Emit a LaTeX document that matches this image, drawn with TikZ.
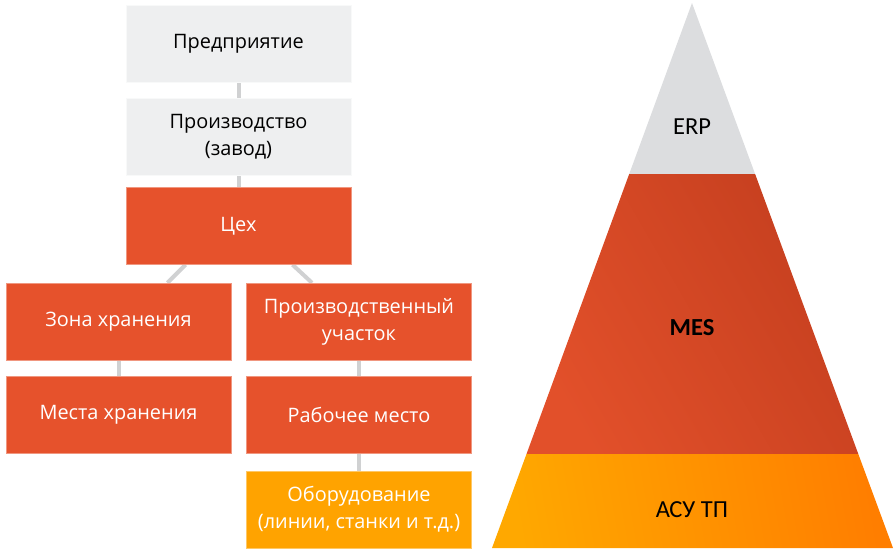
\documentclass[tikz,border=0pt]{standalone}
\usepackage{fontspec}
\setmainfont{Carlito}
\newfontfamily\boxfont{Open Sans}
\usetikzlibrary{positioning,backgrounds}
\definecolor{paleBox}{RGB}{238,239,240}
\definecolor{redBox}{RGB}{230,82,44}
\definecolor{amberBox}{RGB}{255,163,0}
\definecolor{linkGray}{RGB}{208,209,210}
\definecolor{erpGray}{RGB}{220,221,223}
\definecolor{mesLow}{RGB}{226,80,42}
\definecolor{mesHigh}{RGB}{197,63,31}
\definecolor{asuLow}{RGB}{255,168,0}
\definecolor{asuHigh}{RGB}{255,126,0}
\tikzset{
  level/.style={minimum width=225pt, minimum height=77pt, inner sep=2pt,
              font=\boxfont\fontsize{19.9}{27}\selectfont, align=center},
  greybox/.style={level, fill=paleBox, draw=white!60!paleBox, text=black},
  redbox/.style={level, fill=redBox, draw=redBox!60!white, text=white},
  amberbox/.style={level, fill=amberBox, draw=amberBox!60!white, text=white},
  link/.style={linkGray, line width=4pt},
  tier/.style={font=\fontsize{24.5}{28}\selectfont, text=black},
}
\begin{document}
\begin{tikzpicture}[x=1pt,y=-1pt]
    \useasboundingbox (0,0) rectangle (896,552);
    % hierarchy boxes
    \node[greybox] (ent) at (238.5,44) {Предприятие};
    \node[greybox] (plant) at (238.5,137) {Производство\\(завод)};
    \node[redbox] (shop) at (238.5,226) {Цех};
    \node[redbox] (zone) at (118.5,321.5) {Зона хранения};
    \node[redbox] (area) at (359,321.5) {Производственный\\участок};
    \node[redbox] (store) at (118.5,415) {Места хранения};
    \node[redbox] (work) at (359,415) {Рабочее место};
    \node[amberbox] (equip) at (359,509.5) {Оборудование\\(линии, станки и т.д.)};
    \begin{scope}[on background layer]
      \draw[link] (ent.south) -- (plant.north);
      \draw[link] (plant.south) -- (shop.north);
      \draw[link] ([xshift=-53pt]shop.south) -- ([xshift=49pt]zone.north);
      \draw[link] ([xshift=54pt]shop.south) -- ([xshift=-47pt]area.north);
      \draw[link] (zone.south) -- (store.north);
      \draw[link] (area.south) -- (work.north);
      \draw[link] (work.south) -- (equip.north);
    \end{scope}
    % pyramid
    \coordinate (apex) at (692,3);
    \fill[erpGray] (apex) -- (755.1,174) -- (629.2,174) -- cycle;
    \shade[left color=mesLow, right color=mesHigh, shading angle=120]
      (629.2,174) -- (755.1,174) -- (858.3,454) -- (526.5,454) -- cycle;
    \shade[left color=asuLow, right color=asuHigh, shading angle=100]
      (526.5,454) -- (858.3,454) -- (893,548) -- (492,548) -- cycle;
    \node[tier] (erp) at (692,127) {ERP};
    \node[tier, font=\fontsize{24.5}{28}\selectfont\bfseries] (mes) at (692,328) {MES};
    \node[tier] (asu) at (692,510) {АСУ ТП};
\end{tikzpicture}
\end{document}
